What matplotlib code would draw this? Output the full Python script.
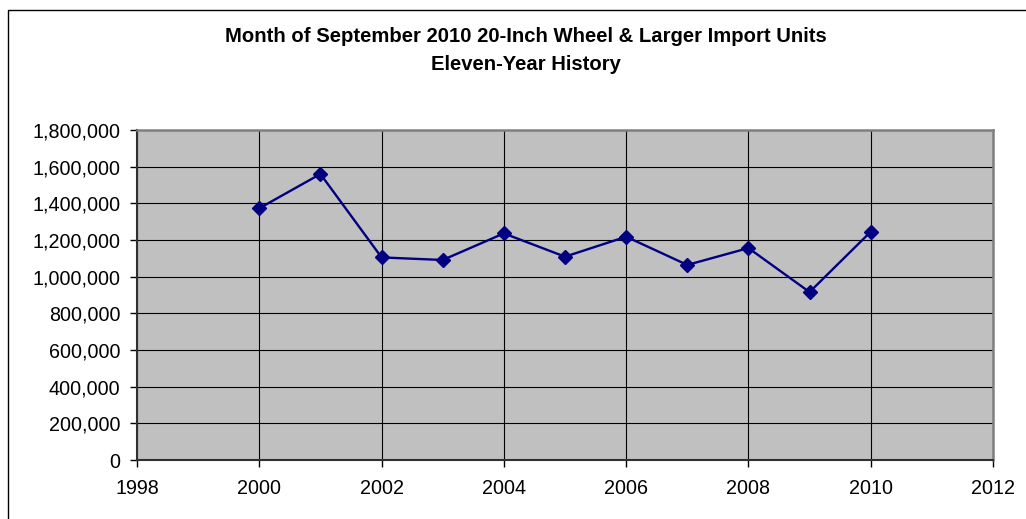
import matplotlib
matplotlib.use("Agg")
import matplotlib.pyplot as plt
from matplotlib.patches import Rectangle
from matplotlib.ticker import FuncFormatter, MultipleLocator

years = [2000, 2001, 2002, 2003, 2004, 2005, 2006, 2007, 2008, 2009, 2010]
units = [1373000, 1560000, 1105000, 1091000, 1236000, 1109000, 1218000, 1064000, 1156000, 916000, 1245000]
title_lines = ["Month of September 2010 20-Inch Wheel & Larger Import Units", "Eleven-Year History"]

plt.rcParams['font.family'] = ['Liberation Sans', 'DejaVu Sans']

W, H = 1026, 519
fig = plt.figure(figsize=(W / 100, H / 100), dpi=100)
fig.patch.set_facecolor('white')

# outer chart border (left/top visible)
fig.patches.append(Rectangle((8 / W, -0.2), 1.5, 1.2 - 10 / H, transform=fig.transFigure,
                             fill=False, edgecolor='black', linewidth=1.0))

ax = fig.add_axes([137 / W, (H - 460) / H, (993 - 137) / W, 330 / H])
ax.set_facecolor('#C0C0C0')
ax.plot(years, units, color='#000080', linewidth=1.7, marker='D', markersize=7.5,
        markerfacecolor='#000080', markeredgecolor='#000080', zorder=3)

ax.set_xlim(1998, 2012)
ax.set_ylim(0, 1800000)
ax.xaxis.set_major_locator(MultipleLocator(2))
ax.yaxis.set_major_locator(MultipleLocator(200000))
ax.yaxis.set_major_formatter(FuncFormatter(lambda v, p: f"{int(v):,}"))
ax.grid(True, color='black', linewidth=0.8)
ax.set_axisbelow(True)

for s in ['top', 'right']:
    ax.spines[s].set_color('#808080')
    ax.spines[s].set_linewidth(1.8)
for s in ['left', 'bottom']:
    ax.spines[s].set_color('#303030')
    ax.spines[s].set_linewidth(1.5)

ax.tick_params(axis='both', direction='out', length=5, width=1, color='black',
               labelsize=14.2, labelcolor='black')
ax.tick_params(axis='y', pad=7)
ax.tick_params(axis='x', pad=9)

fig.text(526 / W, 1 - 37 / H, title_lines[0], ha='center', va='center',
         fontsize=14.6, fontweight='bold')
fig.text(526 / W, 1 - 64 / H, title_lines[1], ha='center', va='center',
         fontsize=14.6, fontweight='bold')

fig.savefig('out.png', dpi=100)
